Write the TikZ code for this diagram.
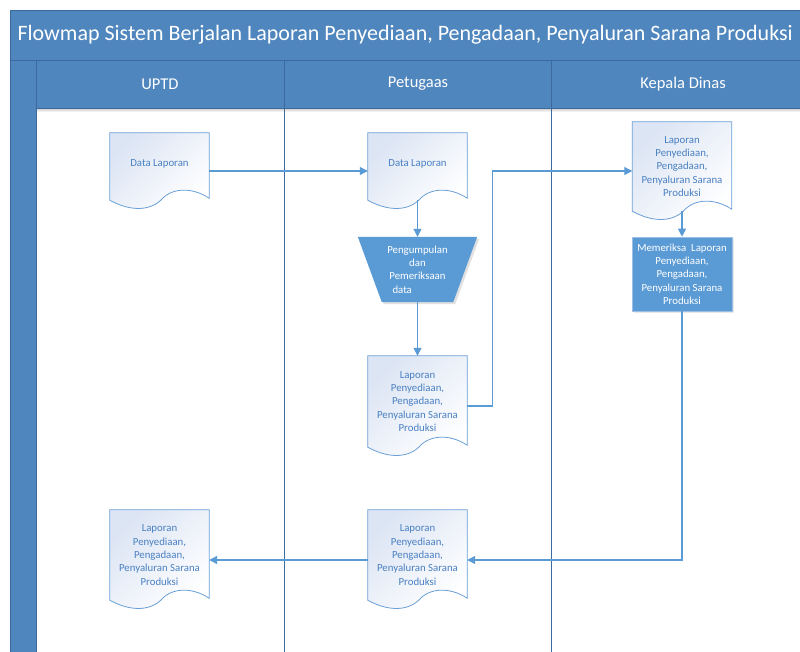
\documentclass[tikz,border=0pt]{standalone}
\usepackage{fontspec}
\setmainfont{Carlito}
\usetikzlibrary{arrows.meta,calc,shadows}
\pgfdeclarelayer{back}
\pgfdeclarelayer{bg}
\pgfsetlayers{back,bg,main}
\definecolor{lanebg}{HTML}{4F86BE}
\definecolor{laneln}{HTML}{3D6A9C}
\definecolor{flow}{HTML}{5B9BD5}
\definecolor{flowedge}{HTML}{9DBFE6}
\definecolor{doctxt}{HTML}{4A80C2}
\definecolor{docfill}{HTML}{DCE5F4}
\definecolor{docln}{HTML}{6A9FD6}
\newcommand\docwave[1]{%
  \shade[top color=docfill, bottom color=white, shading angle=45, draw=docln, line width=0.8pt]
  (#1.south west) -- (#1.north west) -- (#1.north east) -- ($(#1.south east)+(0,-2)$)
  .. controls ($(#1.south west)+(81,-14)$) and ($(#1.south west)+(61,-12)$) .. ($(#1.south west)+(51,0)$)
  .. controls ($(#1.south west)+(38,12)$) and ($(#1.south west)+(18,10)$) .. (#1.south west) -- cycle;}
\tikzset{
  docnode/.style={minimum width=99pt, inner sep=0pt, text=doctxt, align=center,
    font=\fontsize{10.8}{13.3}\selectfont},
  procnode/.style={inner sep=0pt, text=white, align=center, font=\fontsize{10.8}{13.3}\selectfont},
  lanehead/.style={text=white, font=\fontsize{16.5}{19}\selectfont},
  conn/.style={draw=flow, line width=1.1pt, -{Triangle[length=8pt,width=8pt]}},
  laneline/.style={draw=laneln, line width=0.8pt}
}
\begin{document}
\begin{tikzpicture}[x=1pt,y=-1pt]
\useasboundingbox (0,0) rectangle (800,651);
\begin{pgfonlayer}{back}
  \fill[white] (0,0) rectangle (800,651);
  \fill[lanebg] (10,10) rectangle (820,60);
  \fill[lanebg] (10,60) rectangle (36,660);
  \fill[lanebg] (36,60) rectangle (820,108);
  \fill[white] (36,108) rectangle (820,660);
  \shade[top color=black!22, bottom color=white] (36,108) rectangle (820,112);
  \draw[laneline] (10,660) -- (10,10) -- (820,10);
  \draw[laneline] (10,60) -- (820,60);
  \draw[laneline] (36,108) -- (820,108);
  \draw[laneline] (36,60) -- (36,660);
  \draw[laneline] (284,60) -- (284,660);
  \draw[laneline] (551,60) -- (551,660);
\end{pgfonlayer}

\node[anchor=west, text=white, font=\fontsize{22}{26}\selectfont] (title) at (14,35)
  {Flowmap Sistem Berjalan Laporan Penyediaan, Pengadaan, Penyaluran Sarana Produksi};
\node[lanehead] (h1) at (160,84) {UPTD};
\node[lanehead] (h2) at (418,84) {Petugaas};
\node[lanehead] (h3) at (683,84) {Kepala Dinas};

\node[docnode, minimum height=67pt] (d1) at (159.5,166.5) {Data Laporan\\[-5.5pt]};
\node[docnode, minimum height=67pt] (d2) at (417.5,166.5) {Data Laporan\\[-5.5pt]};
\node[procnode, minimum width=71pt, minimum height=65pt] (t) at (417.5,269.5)
  {Pengumpulan\\dan\\Pemeriksaan\\\makebox[50pt][l]{data}};
\node[docnode, minimum height=91pt] (d3) at (417.5,401.5)
  {Laporan\\Penyediaan,\\Pengadaan,\\Penyaluran Sarana\\Produksi};
\node[docnode, minimum height=89pt] (d4) at (682,166.5)
  {Laporan\\Penyediaan,\\Pengadaan,\\Penyaluran Sarana\\Produksi};
\node[procnode, minimum width=100pt, minimum height=74pt, fill=flow, draw=flowedge, line width=0.6pt,
  drop shadow={opacity=0.18, shadow xshift=1.5pt, shadow yshift=-1.5pt}] (r) at (682,274)
  {Memeriksa\ \ Laporan\\Penyediaan,\\Pengadaan,\\Penyaluran Sarana\\Produksi};
\node[docnode, minimum height=90pt] (d5) at (417.5,555)
  {Laporan\\Penyediaan,\\Pengadaan,\\Penyaluran Sarana\\Produksi};
\node[docnode, minimum height=90pt] (d6) at (159.5,555)
  {Laporan\\Penyediaan,\\Pengadaan,\\Penyaluran Sarana\\Produksi};

\begin{pgfonlayer}{bg}
  \docwave{d1}
  \docwave{d2}
  \docwave{d3}
  \docwave{d4}
  \docwave{d5}
  \docwave{d6}
  \fill[black, opacity=0.12] ($(t.north west)+(-22,2)$) -- ($(t.north east)+(26,2)$) -- ($(t.south east)+(2,2)$) -- ($(t.south west)+(2,2)$) -- cycle;
  \fill[flow] ($(t.north west)+(-24,0)$) -- ($(t.north east)+(24,0)$) -- (t.south east) -- (t.south west) -- cycle;
\end{pgfonlayer}

\draw[conn] ([yshift=-4.5pt]d1.east) -- ([yshift=-4.5pt]d2.west);
\draw[conn] (d2.south) -- (t.north);
\draw[conn] (t.south) -- (d3.north);
\draw[conn] ([yshift=-4.5pt]d3.east) -- ++(25.5,0) |- ([yshift=-4.5pt]d4.west);
\draw[conn] (d4.south) -- (r.north);
\draw[conn] (r.south) |- ([yshift=-5pt]d5.east);
\draw[conn] ([yshift=-5pt]d5.west) -- ([yshift=-5pt]d6.east);
\end{tikzpicture}
\end{document}
